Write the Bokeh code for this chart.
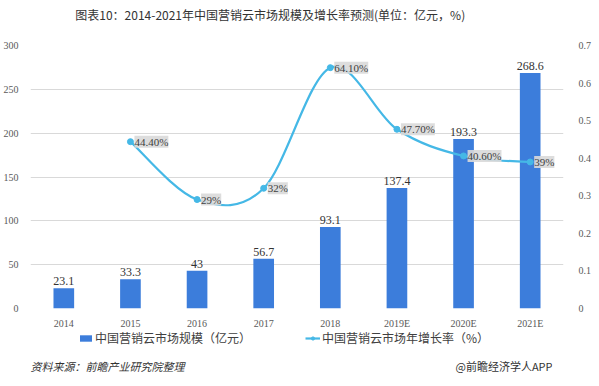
from bokeh.plotting import figure
from bokeh.models import (Range1d, LinearAxis, FixedTicker, ColumnDataSource, LabelSet,
                          Legend, LegendItem)
from bokeh.layouts import column
from bokeh.core.properties import value
from bokeh.embed import file_html
from bokeh.resources import INLINE

title_text = "图表10：2014-2021年中国营销云市场规模及增长率预测(单位：亿元，%)"
years = ["2014", "2015", "2016", "2017", "2018", "2019E", "2020E", "2021E"]
market = [23.1, 33.3, 43, 56.7, 93.1, 137.4, 193.3, 268.6]
market_labels = ["23.1", "33.3", "43", "56.7", "93.1", "137.4", "193.3", "268.6"]
growth_years = ["2015", "2016", "2017", "2018", "2019E", "2020E", "2021E"]
growth = [0.444, 0.29, 0.32, 0.641, 0.477, 0.406, 0.39]
growth_labels = ["44.40%", "29%", "32%", "64.10%", "47.70%", "40.60%", "39%"]
left_ticks = [0, 50, 100, 150, 200, 250, 300]
right_ticks = [0, 0.1, 0.2, 0.3, 0.4, 0.5, 0.6, 0.7]
series_names = ["中国营销云市场规模（亿元）", "中国营销云市场年增长率（%）"]
source_note = "资料来源：前瞻产业研究院整理"
credit = "@前瞻经济学人APP"

BAR = "#3C7DDB"
LINE = "#45B8E6"
NUM_FONT = "Liberation Serif"
CJK = "Noto Sans CJK SC"


def strip(height):
    s = figure(width=583, height=height, output_backend="svg", toolbar_location=None,
               x_range=Range1d(0, 583), y_range=Range1d(0, height), min_border=0)
    s.axis.visible = False
    s.grid.grid_line_color = None
    s.outline_line_color = None
    return s


# title strip
h = strip(29)
h.text(x=[50], y=[15], text=[title_text], text_font=value(CJK), text_font_size="12px",
       text_color="#333333", text_baseline="middle")

# main chart
p = figure(frame_width=533, frame_height=263, output_backend="svg", toolbar_location=None,
           title=None, x_range=Range1d(0, len(years)), y_range=Range1d(0, 300),
           min_border_left=22, min_border_right=28, min_border_top=16, min_border_bottom=20)
p.outline_line_color = None
p.background_fill_color = "white"
p.border_fill_color = "white"
p.extra_y_ranges = {"pct": Range1d(0, 0.7)}

xpos = [i + 0.5 for i in range(len(years))]
src = ColumnDataSource(dict(x=xpos, y=market, lab=market_labels))
p.vbar(x="x", top="y", width=0.31, source=src, fill_color=BAR, line_color=None)
p.add_layout(LabelSet(x="x", y="y", text="lab", source=src, y_offset=3, text_align="center",
                      text_baseline="bottom", text_font=NUM_FONT, text_font_size="12px",
                      text_color="#333333"))

# smoothed growth line (Catmull-Rom style Bezier through the data points)
gx = [years.index(y) + 0.5 for y in growth_years]
pts = list(zip(gx, growth))
x0, y0, x1, y1, cx0, cy0, cx1, cy1 = [], [], [], [], [], [], [], []
for i in range(len(pts) - 1):
    pa = pts[i - 1] if i > 0 else pts[i]
    pb, pc = pts[i], pts[i + 1]
    pd = pts[i + 2] if i + 2 < len(pts) else pts[i + 1]
    x0.append(pb[0]); y0.append(pb[1]); x1.append(pc[0]); y1.append(pc[1])
    cx0.append(pb[0] + (pc[0] - pa[0]) / 6); cy0.append(pb[1] + (pc[1] - pa[1]) / 6)
    cx1.append(pc[0] - (pd[0] - pb[0]) / 6); cy1.append(pc[1] - (pd[1] - pb[1]) / 6)
p.bezier(x0=x0, y0=y0, x1=x1, y1=y1, cx0=cx0, cy0=cy0, cx1=cx1, cy1=cy1,
         line_color=LINE, line_width=2.2, y_range_name="pct")
gsrc = ColumnDataSource(dict(x=gx, y=growth, lab=growth_labels))
p.scatter(x="x", y="y", source=gsrc, size=6, fill_color=LINE, line_color=LINE,
          y_range_name="pct")
p.add_layout(LabelSet(x="x", y="y", text="lab", source=gsrc, y_range_name="pct", x_offset=4,
                      text_baseline="middle", text_align="left", text_font=NUM_FONT,
                      text_font_size="11px", text_color="#404040",
                      background_fill_color="#d9d9d9", background_fill_alpha=0.9))

# axes
p.xaxis.ticker = FixedTicker(ticks=xpos)
p.xaxis.major_label_overrides = {x: y for x, y in zip(xpos, years)}
for ax in [p.xaxis[0], p.yaxis[0]]:
    ax.axis_line_color = None
    ax.major_tick_line_color = None
    ax.minor_tick_line_color = None
    ax.major_label_text_font = NUM_FONT
    ax.major_label_text_font_size = "10px"
    ax.major_label_text_color = "#595959"
p.xaxis.major_label_standoff = 3
p.yaxis.ticker = FixedTicker(ticks=left_ticks)
p.yaxis.major_label_standoff = 6
ry = LinearAxis(y_range_name="pct", ticker=FixedTicker(ticks=right_ticks))
ry.axis_line_color = None
ry.major_tick_line_color = None
ry.minor_tick_line_color = None
ry.major_label_text_font = NUM_FONT
ry.major_label_text_font_size = "10px"
ry.major_label_text_color = "#595959"
ry.major_label_standoff = 9
p.add_layout(ry, "right")
p.xgrid.grid_line_color = None
p.ygrid.grid_line_color = "#d9d9d9"
p.ygrid.ticker = FixedTicker(ticks=left_ticks)

# legend and footer strip (legend keys use invisible NaN points)
nan = float("nan")
f = strip(42)
lb = f.vbar(x=[nan], top=[nan], width=1, fill_color=BAR, line_color=None)
ll = f.line(x=[nan], y=[nan], line_color=LINE, line_width=2.2)
ls = f.scatter(x=[nan], y=[nan], size=6, fill_color=LINE, line_color=LINE)
legend = Legend(items=[
    LegendItem(label=series_names[0], renderers=[lb]),
    LegendItem(label=series_names[1], renderers=[ll, ls]),
], orientation="horizontal", location=(48, 27), padding=0, margin=0, spacing=54,
    label_standoff=2, glyph_width=15, glyph_height=8, label_height=14,
    label_text_font=CJK, label_text_font_size="12px", label_text_color="#404040",
    border_line_color=None, background_fill_alpha=0)
f.add_layout(legend, "center")
f.text(x=[0], y=[8], text=[source_note], text_font=value(CJK),
       text_font_style="italic", text_font_size="11px", text_color="#333333",
       text_baseline="middle")
f.text(x=[583], y=[8], text=[credit], text_font=value(CJK), text_align="right",
       text_font_size="11px", text_color="#333333", text_baseline="middle")

open("out.html", "w").write(file_html(column(h, p, f, spacing=0), INLINE))
